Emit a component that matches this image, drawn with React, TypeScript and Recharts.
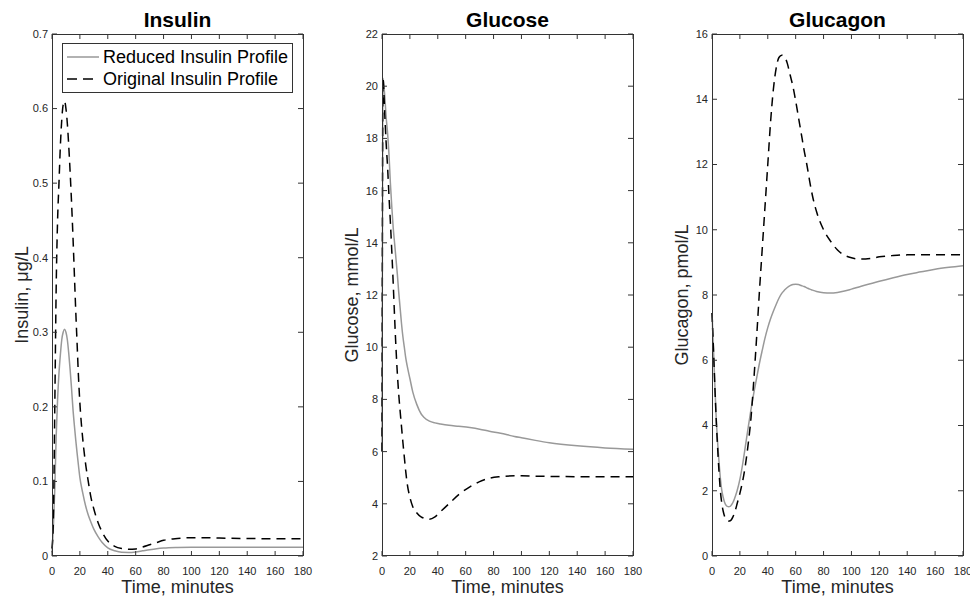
import React from 'react';
import { LineChart, Line, XAxis, YAxis, Legend } from 'recharts';

const FONT = '"Liberation Sans", Arial, Helvetica, sans-serif';
const AXIS = '#262626';
const FRAME = '#333333';
const GRAY = '#999999';
const PLOT_W = 251;
const PLOT_H = 522;
const PLOT_TOP = 34;

// shared x axis
const timeTicks = [0, 20, 40, 60, 80, 100, 120, 140, 160, 180];

// Insulin, µg/L
const insulinTime = [0, 1, 2, 3, 4, 5, 6, 7, 8, 9, 10, 11, 12, 13, 14, 15, 16, 17, 18, 19, 20, 22, 24, 26, 28, 30, 33, 36, 40, 45, 50, 55, 60, 65, 70, 75, 80, 90, 100, 110, 120, 140, 160, 180];
const insulinReduced = [0.005, 0.04, 0.09, 0.16, 0.21, 0.245, 0.27, 0.29, 0.3, 0.304, 0.3, 0.29, 0.272, 0.25, 0.225, 0.198, 0.176, 0.156, 0.138, 0.121, 0.105, 0.085, 0.068, 0.055, 0.045, 0.036, 0.026, 0.018, 0.011, 0.007, 0.005, 0.0048, 0.0055, 0.007, 0.0085, 0.0098, 0.0107, 0.0115, 0.0118, 0.0118, 0.0117, 0.0117, 0.0117, 0.0117];
const insulinOriginal = [0.01, 0.05, 0.2, 0.36, 0.45, 0.5, 0.55, 0.585, 0.605, 0.61, 0.6, 0.58, 0.55, 0.515, 0.475, 0.43, 0.38, 0.33, 0.285, 0.24, 0.205, 0.158, 0.125, 0.1, 0.078, 0.063, 0.045, 0.032, 0.02, 0.013, 0.01, 0.009, 0.0095, 0.012, 0.015, 0.018, 0.021, 0.0235, 0.0245, 0.0245, 0.024, 0.0235, 0.023, 0.023];
const insulinTicks = [0, 0.1, 0.2, 0.3, 0.4, 0.5, 0.6, 0.7];

// Glucose, mmol/L
const glucoseTime = [0, 0.7, 2, 3, 4, 5, 6, 7, 8, 9, 10, 11, 12, 13, 14, 15, 16, 17, 18, 20, 22, 25, 28, 30, 34, 38, 42, 48, 55, 63, 70, 77, 85, 95, 100, 110, 120, 140, 160, 180];
const glucoseReduced = [6.0, 20.3, 19.6, 18.8, 18.2, 17.4, 16.3, 15.4, 14.6, 14.0, 13.4, 12.8, 12.1, 11.5, 10.9, 10.4, 10.0, 9.6, 9.3, 8.8, 8.3, 7.8, 7.45, 7.32, 7.17, 7.1, 7.06, 7.01, 6.97, 6.92, 6.86, 6.78, 6.7, 6.58, 6.53, 6.43, 6.34, 6.22, 6.14, 6.09];
const glucoseOriginal = [6.0, 20.3, 18.9, 17.8, 16.9, 15.8, 14.8, 13.7, 12.5, 11.2, 10.0, 9.0, 8.2, 7.55, 6.95, 6.35, 5.8, 5.25, 4.8, 4.25, 3.9, 3.65, 3.5, 3.45, 3.41, 3.5, 3.7, 4.0, 4.35, 4.65, 4.85, 4.98, 5.04, 5.07, 5.07, 5.06, 5.05, 5.04, 5.04, 5.04];
const glucoseTicks = [2, 4, 6, 8, 10, 12, 14, 16, 18, 20, 22];

// Glucagon, pmol/L
const glucagonTime = [0, 1, 2, 3, 4, 5, 6, 7, 8, 9, 10, 11, 12, 13, 14, 15, 16, 17, 18, 20, 22, 24, 26, 28, 30, 32, 34, 36, 38, 40, 42, 44, 46, 48, 50, 52, 54, 56, 58, 60, 62, 64, 66, 68, 70, 72, 75, 80, 85, 90, 95, 100, 107, 115, 120, 130, 140, 150, 160, 170, 180];
const glucagonReduced = [7.45, 6.4, 5.3, 4.25, 3.5, 2.9, 2.38, 2.02, 1.8, 1.65, 1.56, 1.52, 1.51, 1.52, 1.57, 1.64, 1.74, 1.86, 2.0, 2.35, 2.82, 3.38, 3.95, 4.5, 5.0, 5.45, 5.9, 6.3, 6.68, 7.0, 7.27, 7.5, 7.71, 7.9, 8.05, 8.15, 8.23, 8.29, 8.32, 8.33, 8.32, 8.29, 8.26, 8.22, 8.18, 8.15, 8.11, 8.07, 8.06, 8.08, 8.12, 8.18, 8.27, 8.36, 8.42, 8.53, 8.63, 8.71, 8.79, 8.85, 8.9];
const glucagonOriginal = [7.45, 6.4, 5.25, 4.2, 3.35, 2.6, 2.0, 1.62, 1.38, 1.22, 1.13, 1.09, 1.07, 1.08, 1.12, 1.2, 1.3, 1.44, 1.6, 1.92, 2.3, 2.8, 3.45, 4.25, 5.4, 6.7, 8.1, 9.4, 10.7, 12.0, 13.3, 14.3, 14.95, 15.28, 15.35, 15.3, 15.1, 14.75, 14.4, 13.95, 13.45, 12.95, 12.45, 12.0, 11.5, 11.05, 10.55, 10.0, 9.65, 9.38, 9.22, 9.14, 9.1, 9.13, 9.17, 9.21, 9.23, 9.23, 9.23, 9.23, 9.23];
const glucagonTicks = [0, 2, 4, 6, 8, 10, 12, 14, 16];

const build = (time: number[], reduced: number[], original: number[]) =>
  time.map((t, i) => ({ t, reduced: reduced[i], original: original[i] }));

const X_MARGIN = 11;
const Y_MARGIN = 4;

// bottom tick label + inward ticks on bottom and top edges
const BottomTick = (props: any) => {
  const { x, y, payload } = props;
  const base = y - X_MARGIN;
  return (
    <g>
      <line x1={x} x2={x} y1={base} y2={base - 5} stroke={FRAME} />
      <line x1={x} x2={x} y1={base - PLOT_H} y2={base - PLOT_H + 5} stroke={FRAME} />
      <text x={x} y={y} dy="0.71em" textAnchor="middle" fill={AXIS} fontSize={11} fontFamily={FONT}>
        {payload.value}
      </text>
    </g>
  );
};

// left tick label + inward ticks on left and right edges
const LeftTick = (props: any) => {
  const { x, y, payload } = props;
  const base = x + Y_MARGIN;
  return (
    <g>
      <line x1={base} x2={base + 5} y1={y} y2={y} stroke={FRAME} />
      <line x1={base + PLOT_W} x2={base + PLOT_W - 5} y1={y} y2={y} stroke={FRAME} />
      <text x={x} y={y} dy="0.355em" textAnchor="end" fill={AXIS} fontSize={11} fontFamily={FONT}>
        {payload.value}
      </text>
    </g>
  );
};

const LegendBox = (props: any) => {
  const items = [...(props.payload || [])].sort((a: any, b: any) =>
    a.dataKey === 'reduced' ? -1 : b.dataKey === 'reduced' ? 1 : 0
  );
  return (
    <div
      style={{
        width: 229,
        height: 46,
        border: `1px solid ${FRAME}`,
        background: '#fff',
        fontFamily: FONT,
        fontSize: 18,
        color: '#000',
        paddingTop: 2,
        boxSizing: 'content-box',
      }}
    >
      {items.map((entry: any) => {
        const dashed = entry.dataKey === 'original';
        return (
          <div key={entry.dataKey} style={{ display: 'flex', alignItems: 'center', height: 22 }}>
            <svg width={36} height={22} style={{ marginLeft: 3 }}>
              <line
                x1={1}
                x2={33}
                y1={11}
                y2={11}
                stroke={dashed ? '#000' : GRAY}
                strokeWidth={1.5}
                strokeDasharray={dashed ? '10 6' : undefined}
              />
            </svg>
            <span style={{ marginLeft: 1, whiteSpace: 'nowrap' }}>{entry.value}</span>
          </div>
        );
      })}
    </div>
  );
};

type PanelProps = {
  left: number;
  rightPad: number;
  data: { t: number; reduced: number; original: number }[];
  domain: [number, number];
  ticks: number[];
  legend?: boolean;
};

const Panel = ({ left, rightPad, data, domain, ticks, legend }: PanelProps) => (
  <div style={{ position: 'absolute', left, top: 0 }}>
    <LineChart
      width={52 + PLOT_W + rightPad}
      height={599}
      data={data}
      margin={{ top: PLOT_TOP, right: rightPad, bottom: 0, left: 0 }}
    >
      <XAxis
        dataKey="t"
        type="number"
        domain={[0, 180]}
        ticks={timeTicks}
        height={43}
        axisLine={false}
        tickLine={false}
        tickSize={0}
        tickMargin={X_MARGIN}
        tick={<BottomTick />}
        interval={0}
      />
      <YAxis
        type="number"
        domain={domain}
        ticks={ticks}
        width={52}
        axisLine={false}
        tickLine={false}
        tickSize={0}
        tickMargin={Y_MARGIN}
        tick={<LeftTick />}
        interval={0}
      />
      {legend && (
        <Legend
          layout="vertical"
          align="center"
          verticalAlign="middle"
          content={<LegendBox />}
          wrapperStyle={{ left: 62, top: 43, width: 231, height: 48 }}
        />
      )}
      <Line
        type="monotone"
        dataKey="reduced"
        name="Reduced Insulin Profile"
        stroke={GRAY}
        strokeWidth={1.5}
        dot={false}
        isAnimationActive={false}
      />
      <Line
        type="monotone"
        dataKey="original"
        name="Original Insulin Profile"
        stroke="#000"
        strokeWidth={1.5}
        strokeDasharray="9 6"
        dot={false}
        isAnimationActive={false}
      />
    </LineChart>
  </div>
);

const panels = [
  { left: 0, title: 'Insulin', ylabel: 'Insulin, \u03bcg/L' },
  { left: 330, title: 'Glucose', ylabel: 'Glucose, mmol/L' },
  { left: 660, title: 'Glucagon', ylabel: 'Glucagon, pmol/L' },
];

export default function App() {
  return (
    <div style={{ position: 'absolute', left: 0, top: 0, width: 970, height: 599, background: '#fff', overflow: 'hidden' }}>
      <Panel left={0} rightPad={27} data={build(insulinTime, insulinReduced, insulinOriginal)} domain={[0, 0.7]} ticks={insulinTicks} legend />
      <Panel left={330} rightPad={27} data={build(glucoseTime, glucoseReduced, glucoseOriginal)} domain={[2, 22]} ticks={glucoseTicks} />
      <Panel left={660} rightPad={7} data={build(glucagonTime, glucagonReduced, glucagonOriginal)} domain={[0, 16]} ticks={glucagonTicks} />
      <svg width={970} height={599} style={{ position: 'absolute', left: 0, top: 0, pointerEvents: 'none' }}>
        {panels.map((p) => {
          const plotLeft = p.left + 52;
          const cx = plotLeft + PLOT_W / 2;
          return (
            <g key={p.title} fontFamily={FONT} fill="#000">
              <rect x={plotLeft + 0.5} y={PLOT_TOP + 0.5} width={PLOT_W} height={PLOT_H - 1} fill="none" stroke={FRAME} />
              <text x={cx} y={27} textAnchor="middle" fontSize={21} fontWeight="bold">
                {p.title}
              </text>
              <text x={cx} y={593} textAnchor="middle" fontSize={18} fill={AXIS}>
                Time, minutes
              </text>
              <text
                x={plotLeft - 24}
                y={295}
                textAnchor="middle"
                fontSize={18}
                fill={AXIS}
                transform={`rotate(-90, ${plotLeft - 24}, 295)`}
              >
                {p.ylabel}
              </text>
            </g>
          );
        })}
      </svg>
    </div>
  );
}
